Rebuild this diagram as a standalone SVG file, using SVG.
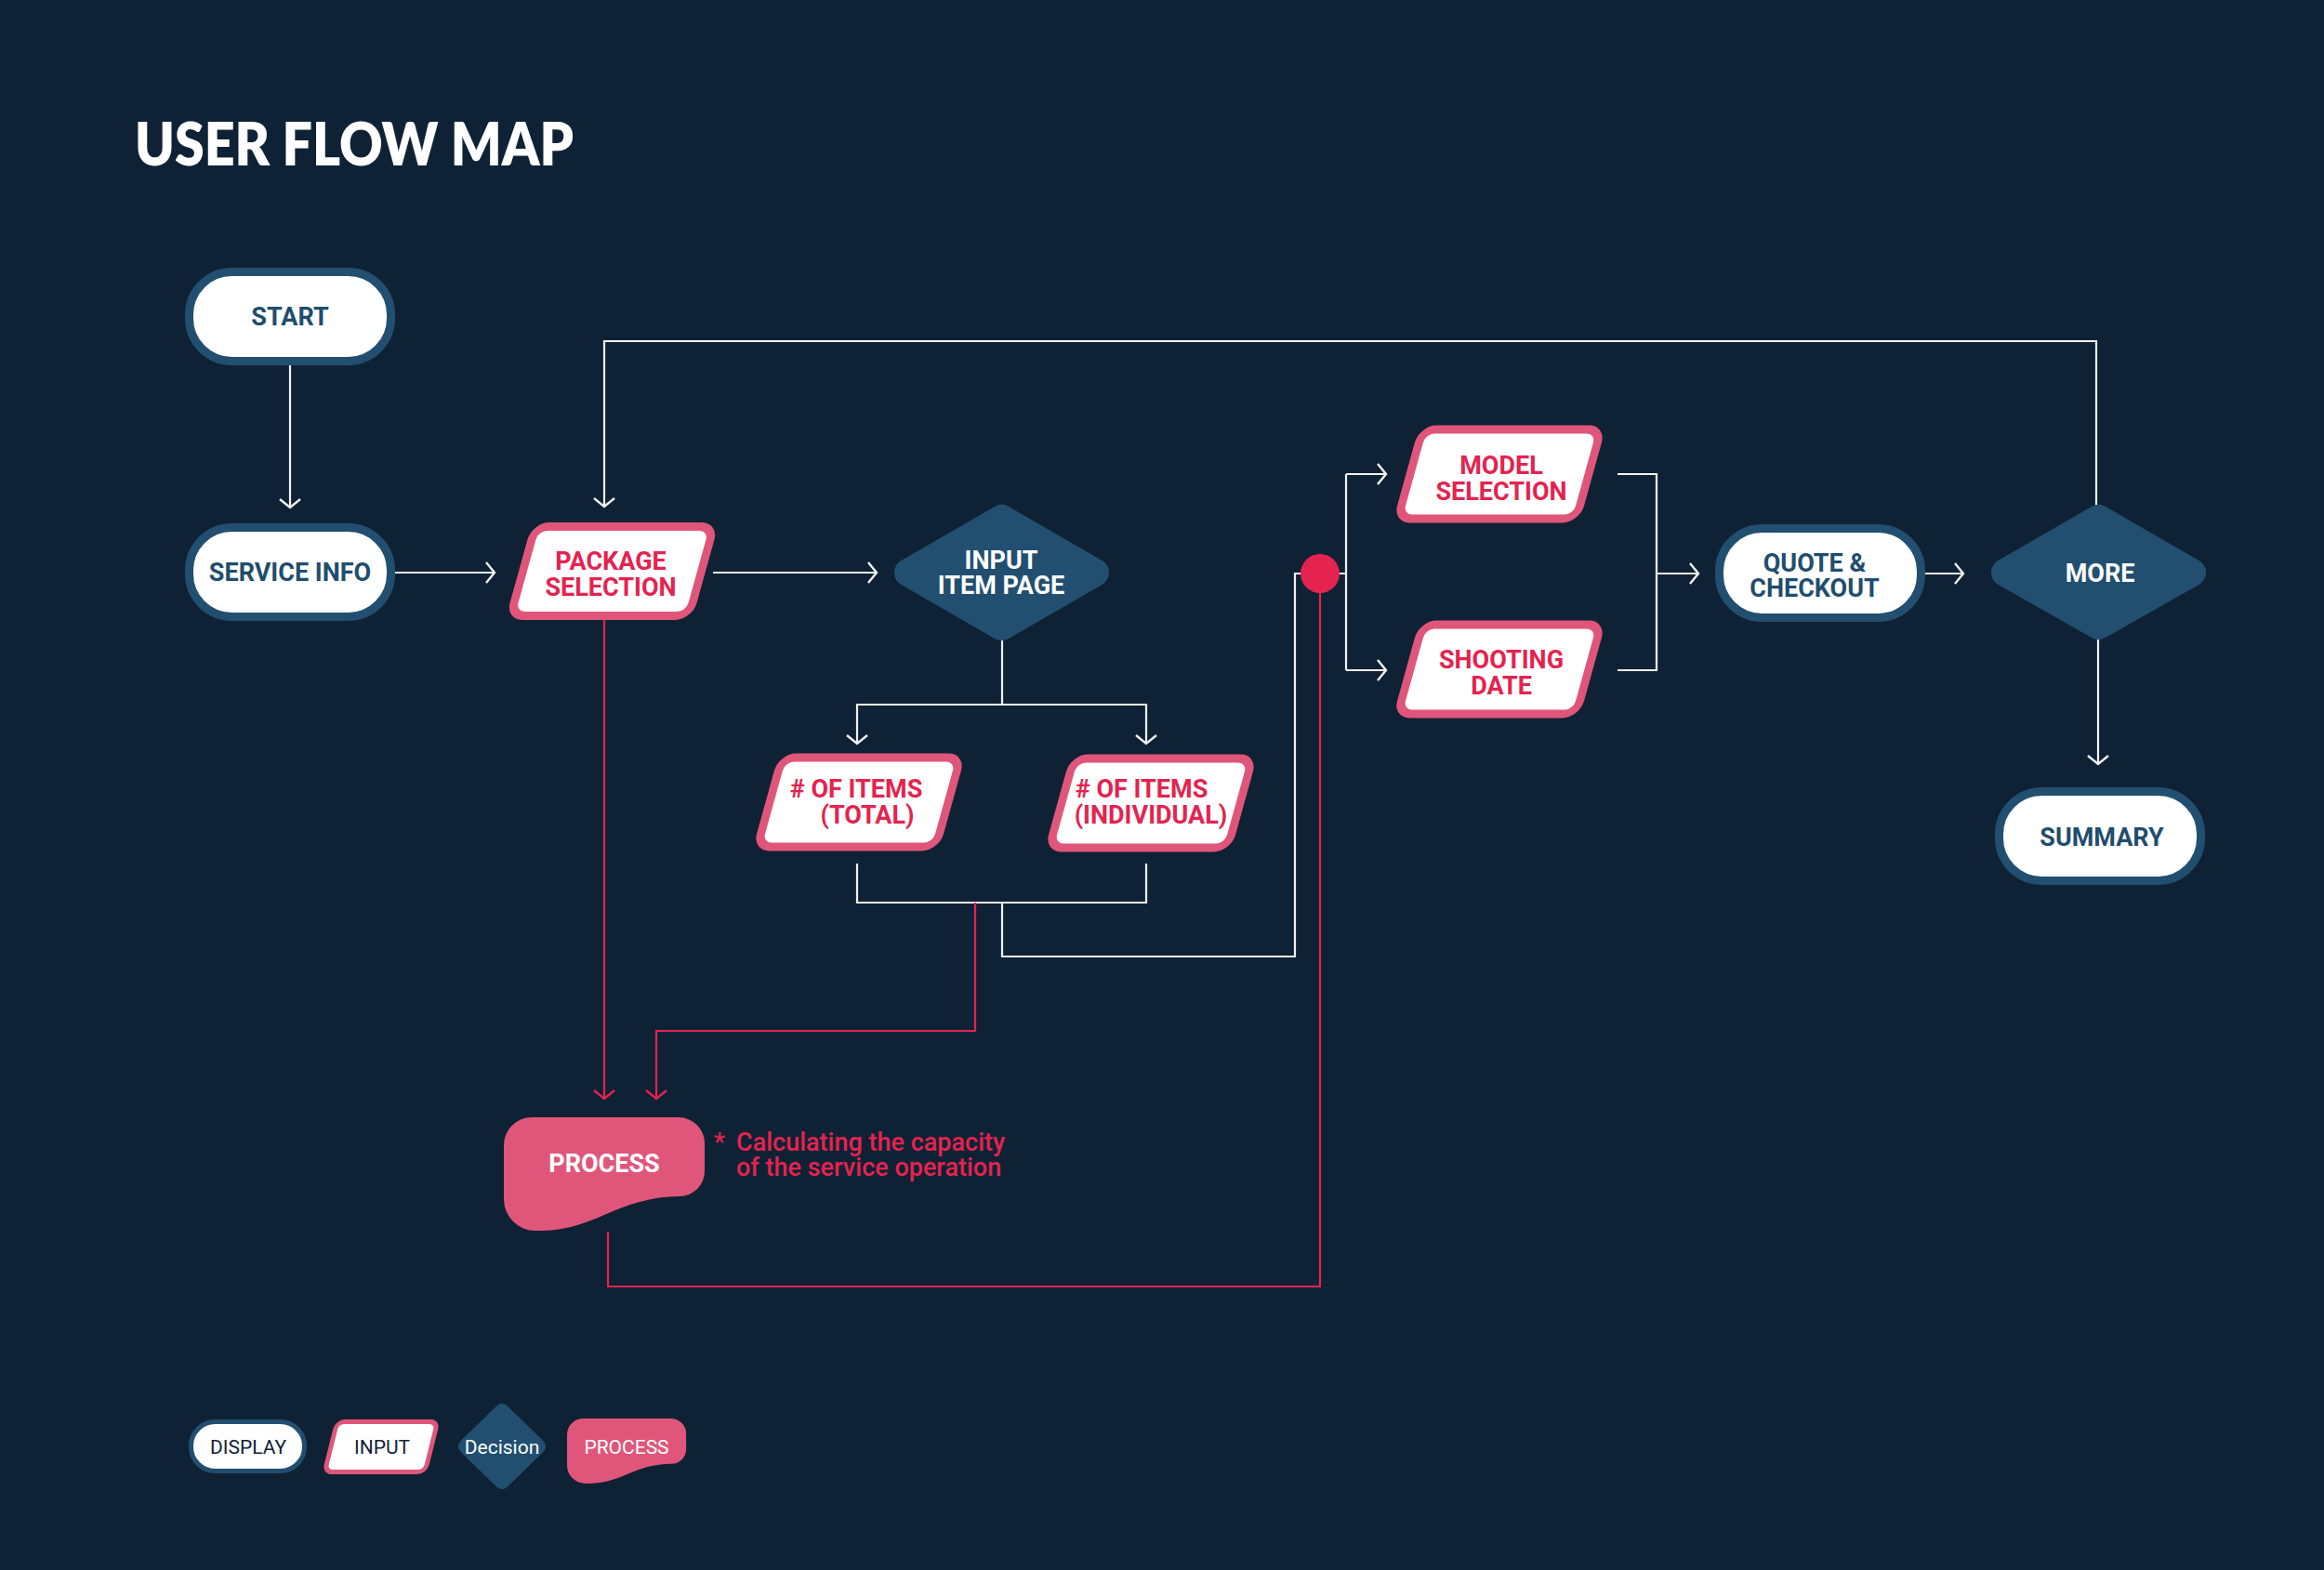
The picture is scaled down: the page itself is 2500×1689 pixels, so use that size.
<svg xmlns="http://www.w3.org/2000/svg" width="2500" height="1689" viewBox="0 0 2500 1689">
<defs>
<style>
.bg{fill:#0f2235}
.disp{fill:#ffffff;stroke:#224f70;stroke-width:9}
.inp{fill:#ffffff;stroke:#e0567a;stroke-width:9}
.dec{fill:#224f70;stroke:#224f70;stroke-width:30;stroke-linejoin:round}
.proc{fill:#e0567a}
.t{font-family:Roboto,'Liberation Sans',sans-serif;font-weight:700;font-size:27px;text-anchor:middle}
.td{fill:#1f4d6e}
.tr{fill:#e4234f}
.tw{fill:#ffffff}
.lw{fill:none;stroke:#f2f2f2;stroke-width:2.2}
.lr{fill:none;stroke:#e4234f;stroke-width:2.2}
.lg{font-family:Roboto,'Liberation Sans',sans-serif;font-weight:400;font-size:21px;text-anchor:middle}
.note{font-family:Roboto,'Liberation Sans',sans-serif;font-weight:500;font-size:27px;fill:#e4234f}
</style>
<marker id="aw" markerWidth="24" markerHeight="28" refX="12" refY="14" orient="auto" markerUnits="userSpaceOnUse" viewBox="0 0 24 28">
<path d="M3 3 L12 14 L3 25" fill="none" stroke="#f2f2f2" stroke-width="2.4"/>
</marker>
<marker id="ar" markerWidth="24" markerHeight="28" refX="12" refY="14" orient="auto" markerUnits="userSpaceOnUse" viewBox="0 0 24 28">
<path d="M3 3 L12 14 L3 25" fill="none" stroke="#e4234f" stroke-width="2.4"/>
</marker>
<path id="procShape" d="M30 0 H188 A28 28 0 0 1 216 28 V58 A27 27 0 0 1 189 85 C158 85 133 94 108 105 C83 116 63 122 38 122 H34 A34 34 0 0 1 0 88 V30 A30 30 0 0 1 30 0 Z"/>
</defs>
<rect class="bg" x="0" y="0" width="2500" height="1689"/>

<text x="145" y="178" font-family="Lato,'Open Sans',sans-serif" font-weight="800" font-size="64" fill="#ffffff" textLength="472" lengthAdjust="spacingAndGlyphs">USER FLOW MAP</text>

<g id="connectors">
<path class="lw" d="M312 393 V546" marker-end="url(#aw)"/>
<path class="lw" d="M425 616 H532" marker-end="url(#aw)"/>
<path class="lw" d="M767 616 H943" marker-end="url(#aw)"/>
<path class="lw" d="M1078 689 V758 H922 V800" marker-end="url(#aw)"/>
<path class="lw" d="M1078 758 H1233 V800" marker-end="url(#aw)"/>
<path class="lw" d="M922 929 V971 H1233 V929"/>
<path class="lw" d="M1078 971 V1029 H1393 V617 H1448"/>
<path class="lw" d="M1448 510 V721"/>
<path class="lw" d="M1448 510 H1491" marker-end="url(#aw)"/>
<path class="lw" d="M1448 721 H1491" marker-end="url(#aw)"/>
<path class="lw" d="M1740 510 H1782 V721 H1740"/>
<path class="lw" d="M1782 617 H1827" marker-end="url(#aw)"/>
<path class="lw" d="M2071 617 H2112" marker-end="url(#aw)"/>
<path class="lw" d="M2255 543 V367 H650 V545" marker-end="url(#aw)"/>
<path class="lw" d="M2257 688 V822" marker-end="url(#aw)"/>
<path class="lr" d="M650 667 V1182" marker-end="url(#ar)"/>
<path class="lr" d="M1049 971 V1109 H706 V1182" marker-end="url(#ar)"/>
<path class="lr" d="M654 1325 V1384 H1420 V630"/>
<circle cx="1420" cy="617" r="21" fill="#e4234f"/>
</g>

<g id="start">
<rect class="disp" x="203.5" y="292.5" width="217" height="96" rx="46"/>
<text class="t td" x="312" y="350">START</text>
</g>
<g id="service-info">
<rect class="disp" x="203.5" y="567.5" width="217" height="96" rx="46"/>
<text class="t td" x="312" y="625">SERVICE INFO</text>
</g>
<g id="package-selection">
<rect class="inp" x="-96" y="-48" width="192" height="96" rx="14" transform="translate(658.5,614.5) skewX(-15.5)"/>
<text class="t tr" x="657" y="613">PACKAGE</text>
<text class="t tr" x="657" y="641">SELECTION</text>
</g>
<g id="input-item-page">
<polygon class="dec" points="977,616 1077.5,558 1178,616 1077.5,674"/>
<text class="t tw" x="1077" y="612">INPUT</text>
<text class="t tw" x="1077" y="639">ITEM PAGE</text>
</g>
<g id="items-total">
<rect class="inp" x="-96" y="-48" width="192" height="96" rx="14" transform="translate(924,863) skewX(-15.5)"/>
<text class="t tr" x="921" y="858"># OF ITEMS</text>
<text class="t tr" x="933" y="886">(TOTAL)</text>
</g>
<g id="items-individual">
<rect class="inp" x="-96" y="-48" width="192" height="96" rx="14" transform="translate(1238,864) skewX(-15.5)"/>
<text class="t tr" x="1228" y="858"># OF ITEMS</text>
<text class="t tr" x="1238" y="886">(INDIVIDUAL)</text>
</g>
<g id="model-selection">
<rect class="inp" x="-96" y="-48" width="192" height="96" rx="14" transform="translate(1613,510) skewX(-15.5)"/>
<text class="t tr" x="1615" y="510">MODEL</text>
<text class="t tr" x="1615" y="538">SELECTION</text>
</g>
<g id="shooting-date">
<rect class="inp" x="-96" y="-48" width="192" height="96" rx="14" transform="translate(1613,720) skewX(-15.5)"/>
<text class="t tr" x="1615" y="719">SHOOTING</text>
<text class="t tr" x="1615" y="747">DATE</text>
</g>
<g id="quote-checkout">
<rect class="disp" x="1849.5" y="568.5" width="217" height="96" rx="46"/>
<text class="t td" x="1952" y="615">QUOTE &amp;</text>
<text class="t td" x="1952" y="642">CHECKOUT</text>
</g>
<g id="more">
<polygon class="dec" points="2157,616 2257.5,558 2358,616 2257.5,673"/>
<text class="t tw" x="2259" y="626">MORE</text>
</g>
<g id="summary">
<rect class="disp" x="2150.5" y="851.5" width="217" height="96" rx="46"/>
<text class="t td" x="2261" y="910">SUMMARY</text>
</g>
<g id="process">
<use href="#procShape" class="proc" transform="translate(542,1202)"/>
<text class="t tw" x="650" y="1261">PROCESS</text>
</g>
<g id="process-note">
<text class="note" x="768" y="1238">*</text>
<text class="note" x="792" y="1238">Calculating the capacity</text>
<text class="note" x="792" y="1265">of the service operation</text>
</g>

<g id="legend-display">
<rect x="205.5" y="1529.5" width="122" height="53" rx="26" fill="#ffffff" stroke="#224f70" stroke-width="5"/>
<text class="lg" x="267" y="1564" fill="#0f2235">DISPLAY</text>
</g>
<g id="legend-input">
<rect x="-54" y="-27" width="108" height="54" rx="8" fill="#ffffff" stroke="#e0567a" stroke-width="5" transform="translate(410,1556.5) skewX(-14)"/>
<text class="lg" x="411" y="1564" fill="#0f2235">INPUT</text>
</g>
<g id="legend-decision">
<polygon points="540,1518 579,1556 540,1594 501,1556" fill="#224f70" stroke="#224f70" stroke-width="16" stroke-linejoin="round"/>
<text class="lg" x="540" y="1564" fill="#ffffff">Decision</text>
</g>
<g id="legend-process">
<use href="#procShape" class="proc" transform="translate(610,1526) scale(0.593,0.574)"/>
<text class="lg" x="674" y="1564" fill="#ffffff">PROCESS</text>
</g>
</svg>
